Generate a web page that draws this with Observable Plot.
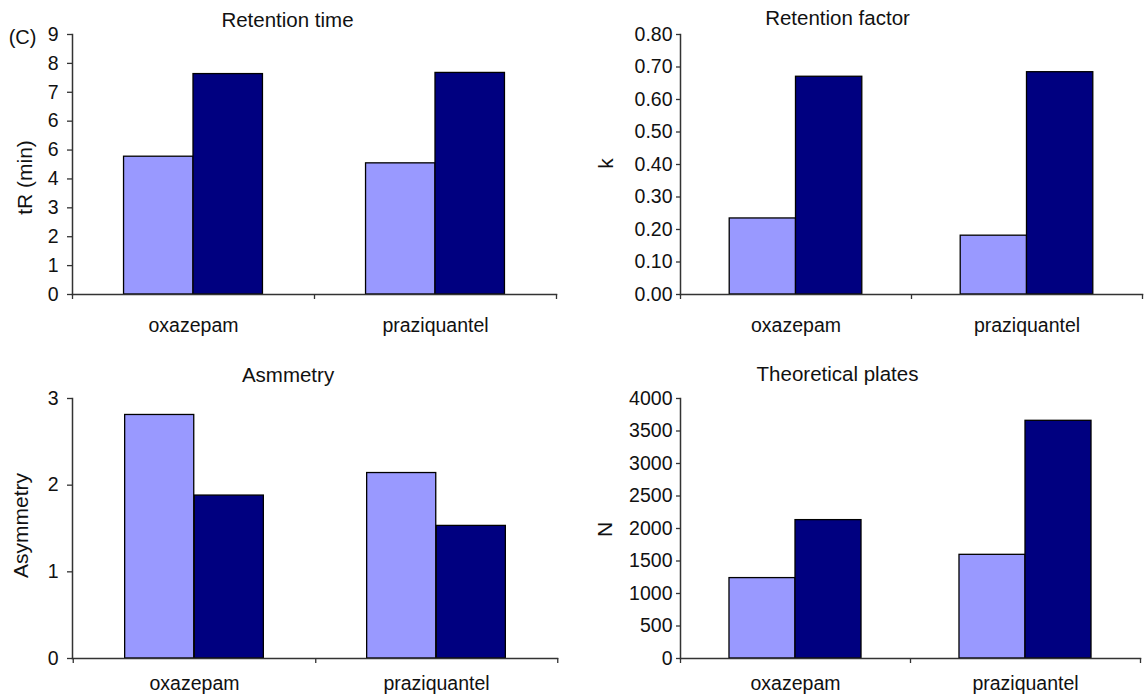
<!DOCTYPE html>
<html>
<head>
<meta charset="utf-8">
<script src="https://cdn.jsdelivr.net/npm/d3@7"></script>
<script src="https://cdn.jsdelivr.net/npm/@observablehq/plot@0.6"></script>
<style>
  body { margin: 0; background: #fff; }
  #chart { position: relative; width: 1144px; height: 699px; overflow: hidden; background: #fff; }
  .panel { position: absolute; }
</style>
</head>
<body>
<div id="chart"></div>
<script>
// ---- data ----
const drugs = ["oxazepam", "praziquantel"];

const retentionTimeLight = [4.77, 4.54];
const retentionTimeDark  = [7.63, 7.67];
const retentionFactorLight = [0.234, 0.181];
const retentionFactorDark  = [0.670, 0.684];
const asymmetryLight = [2.81, 2.14];
const asymmetryDark  = [1.88, 1.53];
const platesLight = [1237, 1595];
const platesDark  = [2129, 3657];

// ---- tick labels ----
const rtTicks = [0, 1, 2, 3, 4, 5, 6, 7, 8, 9];
const rtTickLabels = ["0", "1", "2", "3", "4", "6", "6", "7", "8", "9"];
const kTicks = [0, 0.1, 0.2, 0.3, 0.4, 0.5, 0.6, 0.7, 0.8];
const kTickLabels = ["0.00", "0.10", "0.20", "0.30", "0.40", "0.50", "0.60", "0.70", "0.80"];
const asymTicks = [0, 1, 2, 3];
const asymTickLabels = ["0", "1", "2", "3"];
const nTicks = [0, 500, 1000, 1500, 2000, 2500, 3000, 3500, 4000];
const nTickLabels = ["0", "500", "1000", "1500", "2000", "2500", "3000", "3500", "4000"];

const lightColor = "#9999ff";
const darkColor = "#000080";
const font = "'Liberation Sans', Arial, Helvetica, sans-serif";

function panel(cfg) {
  const rows = drugs.map((d, i) => ({drug: d, light: cfg.light[i], dark: cfg.dark[i]}));
  const bw = (cfg.width - cfg.ml - cfg.mr) / drugs.length;
  const labelMap = new Map(cfg.ticks.map((t, i) => [t, cfg.tickLabels[i]]));
  const marks = [
    Plot.barY(rows, {x: "drug", y: "light", fill: lightColor, stroke: "#000", strokeWidth: 1.3,
      insetLeft: 0.213 * bw, insetRight: 0.5 * bw}),
    Plot.barY(rows, {x: "drug", y: "dark", fill: darkColor, stroke: "#000", strokeWidth: 1.3,
      insetLeft: 0.5 * bw, insetRight: 0.213 * bw}),
    Plot.frame({anchor: "left", stroke: "#333", strokeWidth: 1.5}),
    Plot.frame({anchor: "bottom", stroke: "#333", strokeWidth: 1.5}),
    Plot.axisY({ticks: cfg.ticks, tickFormat: d => labelMap.get(d), tickSize: cfg.tickSize,
      tickPadding: cfg.tickPadding, label: null, stroke: "#333", strokeWidth: 1.3, fill: "#111"}),
    Plot.axisX({tickSize: 5, tickFormat: () => "", dx: bw / 2, label: null, stroke: "#333", strokeWidth: 1.3}),
    Plot.axisX({ticks: [drugs[0]], tickSize: 5, tickFormat: () => "", dx: -bw / 2, label: null, stroke: "#333", strokeWidth: 1.3}),
    Plot.axisX({tickSize: 0, tickPadding: cfg.xPad, label: null, fill: "#111"}),
    Plot.text([cfg.title], {text: d => d, frameAnchor: "top", dx: cfg.titleDx, dy: cfg.titleDy,
      lineAnchor: "middle", fontSize: 20.5, fill: "#111"}),
    Plot.text([cfg.ylabel], {text: d => d, frameAnchor: "left", dx: cfg.ylabelDx, dy: cfg.ylabelDy,
      rotate: -90, lineAnchor: "middle", textAnchor: "middle", fontSize: 21, fill: "#111"})
  ];
  if (cfg.tag) {
    marks.push(Plot.text([cfg.tag], {text: d => d, frameAnchor: "top-left", dx: -50, dy: 3,
      lineAnchor: "middle", textAnchor: "middle", fontSize: 20, fill: "#111"}));
  }
  const svg = Plot.plot({
    width: cfg.width, height: cfg.height,
    marginLeft: cfg.ml, marginRight: cfg.mr, marginTop: cfg.mt, marginBottom: cfg.mb,
    x: {domain: drugs, padding: 0, label: null},
    y: {domain: cfg.yDomain, label: null},
    style: {fontFamily: font, fontSize: "19.5px", color: "#111", background: "white", overflow: "visible"},
    marks
  });
  const wrap = document.createElement("div");
  wrap.className = "panel";
  wrap.style.left = cfg.left + "px";
  wrap.style.top = cfg.top + "px";
  wrap.appendChild(svg);
  document.getElementById("chart").appendChild(wrap);
}

panel({
  left: 0, top: 0, width: 572, height: 350, ml: 72, mr: 16, mt: 34, mb: 56,
  light: retentionTimeLight, dark: retentionTimeDark, yDomain: [0, 9],
  ticks: rtTicks, tickLabels: rtTickLabels, tickSize: 5, tickPadding: 9, xPad: 24,
  title: "Retention time", titleDx: -27, titleDy: -14,
  ylabel: "tR (min)", ylabelDx: -47, ylabelDy: 13, tag: "(C)"
});
panel({
  left: 572, top: 0, width: 572, height: 350, ml: 108, mr: 2, mt: 34, mb: 56,
  light: retentionFactorLight, dark: retentionFactorDark, yDomain: [0, 0.8],
  ticks: kTicks, tickLabels: kTickLabels, tickSize: 4, tickPadding: 4, xPad: 24,
  title: "Retention factor", titleDx: -74, titleDy: -16,
  ylabel: "k", ylabelDx: -74, ylabelDy: -1
});
panel({
  left: 0, top: 350, width: 572, height: 349, ml: 72, mr: 15, mt: 48, mb: 41,
  light: asymmetryLight, dark: asymmetryDark, yDomain: [0, 3],
  ticks: asymTicks, tickLabels: asymTickLabels, tickSize: 5, tickPadding: 9, xPad: 18,
  title: "Asmmetry", titleDx: -27, titleDy: -23,
  ylabel: "Asymmetry", ylabelDx: -51, ylabelDy: -3
});
panel({
  left: 572, top: 350, width: 572, height: 349, ml: 108, mr: 4, mt: 48, mb: 41,
  light: platesLight, dark: platesDark, yDomain: [0, 4000],
  ticks: nTicks, tickLabels: nTickLabels, tickSize: 4, tickPadding: 4, xPad: 18,
  title: "Theoretical plates", titleDx: -73, titleDy: -24,
  ylabel: "N", ylabelDx: -75, ylabelDy: 1
});
</script>
</body>
</html>
